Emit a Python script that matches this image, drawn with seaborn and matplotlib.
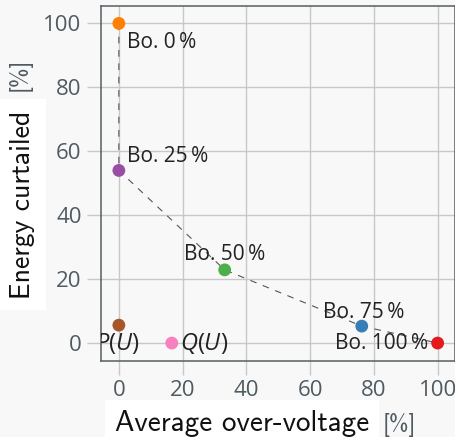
import matplotlib
matplotlib.use("Agg")
import matplotlib.pyplot as plt
import seaborn as sns
import pandas as pd

# --- data -------------------------------------------------------------
labels = ["Bo. 0\u2009%", "Bo. 25\u2009%", "Bo. 50\u2009%", "Bo. 75\u2009%", "Bo. 100\u2009%", "$P(U)$", "$Q(U)$"]
over_voltage = [0.0, 0.0, 33.2, 76.2, 100.0, 0.0, 16.6]
curtailed = [100.0, 54.0, 22.9, 5.3, 0.0, 5.6, 0.0]
colors = ["#ff7f00", "#984ea3", "#4daf4a", "#377eb8", "#e41a1c", "#a65628", "#f781bf"]
bo_order = labels[:5]
x_ticks = [0, 20, 40, 60, 80, 100]
y_ticks = [0, 20, 40, 60, 80, 100]

df = pd.DataFrame({"label": labels, "x": over_voltage, "y": curtailed})

sns.set_theme(style="whitegrid")
BG = "#f8f8f8"
plt.rcParams.update({
    "font.family": ["Open Sans", "DejaVu Sans"],
    "mathtext.fontset": "custom",
    "mathtext.it": "Open Sans:italic",
    "mathtext.rm": "Open Sans",
    "figure.facecolor": BG,
    "axes.facecolor": BG,
})

fig = plt.figure(figsize=(4.56, 4.37), dpi=100)
ax = fig.add_axes([0.2215, 0.174, 0.776, 0.812])

# dashed connecting line through the Bo. points
bo = df[df["label"].isin(bo_order)]
sns.lineplot(data=bo, x="x", y="y", sort=False, estimator=None, ax=ax, color="#555555",
             linestyle=(0, (6, 6)), linewidth=0.8, zorder=2)

sns.scatterplot(data=df, x="x", y="y", hue="label", palette=colors,
                s=85, edgecolor="none", legend=False, ax=ax, zorder=3)

ax.set_xlim(-5.6, 105.4)
ax.set_ylim(-5.6, 105.4)
ax.set_xticks(x_ticks)
ax.set_yticks(y_ticks)
ax.grid(True, color="#c8c8c8", linewidth=1.0)
ax.tick_params(axis="both", which="major", direction="out", length=10,
               width=1.0, color="#c8c8c8", labelsize=16, labelcolor="#4f5b62", pad=4,
               bottom=True, left=True)
for s in ax.spines.values():
    s.set_color("#555f63")
    s.set_linewidth(1.1)
ax.set_xlabel("")
ax.set_ylabel("")

# annotations (offsets in points)
ANN = 15
offsets = {
    labels[0]: ((6, -14), "left", "center", ANN),
    labels[1]: ((6, 10), "left", "center", ANN),
    labels[2]: ((-29, 11), "left", "center", ANN),
    labels[3]: ((-28, 10), "left", "center", ANN),
    labels[4]: ((-7, 0), "right", "center", ANN),
    labels[6]: ((6, 0), "left", "center", 17),
}
for lab, x, y in zip(labels, over_voltage, curtailed):
    if lab in offsets:
        (dx, dy), ha, va, fs = offsets[lab]
        ax.annotate(lab, (x, y), xytext=(dx, dy), textcoords="offset points",
                    ha=ha, va=va, fontsize=fs, color="#222222", zorder=4)
# P(U) label sits at the baseline under the brown point, clipped by the axes
t = ax.annotate(labels[5], (over_voltage[5], 0), xytext=(-1.5, 0), textcoords="offset points",
                ha="center", va="center", fontsize=17, color="#222222", zorder=4,
                annotation_clip=False)
t.set_clip_on(True)
t.set_clip_path(ax.patch)

# axis labels: white boxed main text + coloured unit
lab_font = "cmss10"
fig.text(115 / 456, 1 - 431 / 437, "Average over-voltage", fontsize=21, family=lab_font,
         color="#111111", ha="left", va="baseline",
         bbox=dict(boxstyle="square,pad=0.35", facecolor="white", edgecolor="none"))
fig.text(383 / 456, 1 - 431 / 437, "[%]", fontsize=17, family=lab_font, color="#4f5b62",
         ha="left", va="baseline")
fig.text(30 / 456, 1 - 204.5 / 437, "Energy curtailed", fontsize=20, family=lab_font,
         color="#111111", ha="center", va="baseline", rotation=90, rotation_mode="anchor",
         bbox=dict(boxstyle="square,pad=0.4", facecolor="white", edgecolor="none"))
fig.text(26 / 456, 1 - 74 / 437, "[%]", fontsize=17, family=lab_font, color="#4f5b62",
         ha="center", va="baseline", rotation=90, rotation_mode="anchor")

fig.savefig("out.png", dpi=100, facecolor=BG)
